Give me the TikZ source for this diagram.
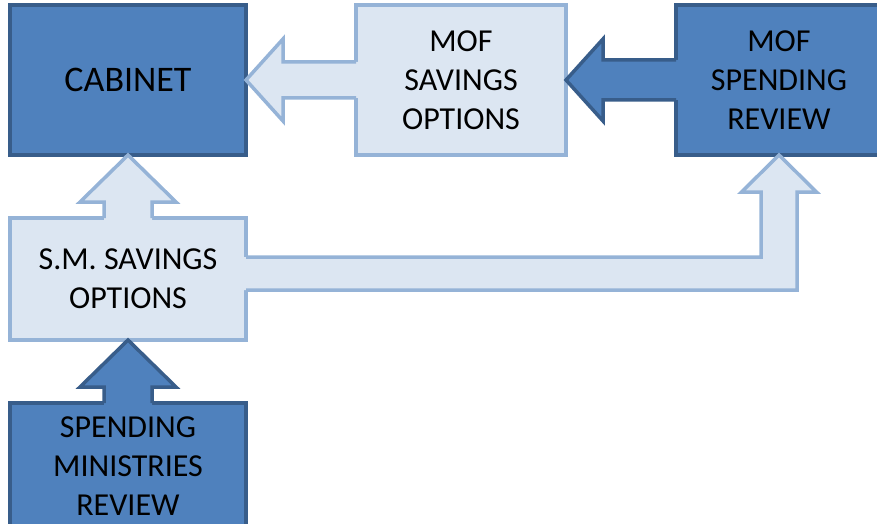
\documentclass[tikz,border=0pt]{standalone}
\usepackage{fontspec}
\setmainfont{Carlito}
\usetikzlibrary{calc}
\definecolor{darkfill}{HTML}{4F81BD}
\definecolor{darkline}{HTML}{385D8A}
\definecolor{lightfill}{HTML}{DCE6F2}
\definecolor{lightline}{HTML}{95B3D7}
\begin{document}
\begin{tikzpicture}[x=1pt,y=-1pt,
  box/.style={line width=3.5pt, outer sep=0pt, inner sep=0pt, align=center,
    font=\fontsize{32}{39}\selectfont, text=black},
  darkbox/.style={box, draw=darkline, fill=darkfill},
  lightbox/.style={box, draw=lightline, fill=lightfill},
  darkedge/.style={draw=darkline, line width=3.5pt},
  lightedge/.style={draw=lightline, line width=3.5pt}]
\useasboundingbox (0,0) rectangle (877,524);
% boxes
\node[darkbox, minimum width=236pt, minimum height=150pt,
      font=\fontsize{36}{42}\selectfont] (cab) at (128,80) {CABINET};
\node[lightbox, minimum width=210pt, minimum height=150pt] (mofs) at (461,80) {MOF\\SAVINGS\\OPTIONS};
\node[darkbox, minimum width=206pt, minimum height=150pt] (mofr) at (779,80) {MOF\\SPENDING\\REVIEW};
\node[lightbox, minimum width=236pt, minimum height=122pt] (sm) at (128,279) {S.M. SAVINGS\\OPTIONS};
\node[darkbox, minimum width=236pt, minimum height=126pt] (smr) at (128,466) {SPENDING\\MINISTRIES\\REVIEW};
% arrow: MOF savings -> cabinet
\fill[lightfill] (cab.east) -- ($(cab.east)+(37,-41)$) -- ($(cab.east)+(37,-18)$)
  -- ($(mofs.west)+(3,-18)$) -- ($(mofs.west)+(3,18)$) -- ($(cab.east)+(37,18)$)
  -- ($(cab.east)+(37,41)$) -- cycle;
\draw[lightedge] ($(mofs.west)+(0,-18)$) -- ($(cab.east)+(37,-18)$) -- ($(cab.east)+(37,-41)$)
  -- (cab.east) -- ($(cab.east)+(37,41)$) -- ($(cab.east)+(37,18)$) -- ($(mofs.west)+(0,18)$);
% arrow: MOF spending review -> MOF savings
\fill[darkfill] (mofs.east) -- ($(mofs.east)+(37,-41)$) -- ($(mofs.east)+(37,-20)$)
  -- ($(mofr.west)+(3,-20)$) -- ($(mofr.west)+(3,20)$) -- ($(mofs.east)+(37,20)$)
  -- ($(mofs.east)+(37,41)$) -- cycle;
\draw[darkedge] ($(mofr.west)+(0,-20)$) -- ($(mofs.east)+(37,-20)$) -- ($(mofs.east)+(37,-41)$)
  -- (mofs.east) -- ($(mofs.east)+(37,41)$) -- ($(mofs.east)+(37,20)$) -- ($(mofr.west)+(0,20)$);
% arrow: S.M. savings -> cabinet
\fill[lightfill] (cab.south) -- ($(cab.south)+(-48,47)$) -- ($(cab.south)+(-24,47)$)
  -- ($(sm.north)+(-24,3)$) -- ($(sm.north)+(24,3)$) -- ($(cab.south)+(24,47)$)
  -- ($(cab.south)+(48,47)$) -- cycle;
\draw[lightedge] ($(sm.north)+(-24,0)$) -- ($(cab.south)+(-24,47)$) -- ($(cab.south)+(-48,47)$)
  -- (cab.south) -- ($(cab.south)+(48,47)$) -- ($(cab.south)+(24,47)$) -- ($(sm.north)+(24,0)$);
% arrow: spending ministries review -> S.M. savings
\fill[darkfill] (sm.south) -- ($(sm.south)+(-48,47)$) -- ($(sm.south)+(-24,47)$)
  -- ($(smr.north)+(-24,3)$) -- ($(smr.north)+(24,3)$) -- ($(sm.south)+(24,47)$)
  -- ($(sm.south)+(48,47)$) -- cycle;
\draw[darkedge] ($(smr.north)+(-24,0)$) -- ($(sm.south)+(-24,47)$) -- ($(sm.south)+(-48,47)$)
  -- (sm.south) -- ($(sm.south)+(48,47)$) -- ($(sm.south)+(24,47)$) -- ($(smr.north)+(24,0)$);
% L-shaped arrow: S.M. savings -> MOF spending review
\fill[lightfill] ($(sm.east)+(-3,-22)$) -- ($(mofr.south)+(-18,102)$) -- ($(mofr.south)+(-18,37)$)
  -- ($(mofr.south)+(-37.5,37)$) -- (mofr.south) -- ($(mofr.south)+(37.5,37)$)
  -- ($(mofr.south)+(18,37)$) -- ($(mofr.south)+(18,135)$) -- ($(sm.east)+(-3,11)$) -- cycle;
\draw[lightedge] ($(sm.east)+(0,-22)$) -- ($(mofr.south)+(-18,102)$) -- ($(mofr.south)+(-18,37)$)
  -- ($(mofr.south)+(-37.5,37)$) -- (mofr.south) -- ($(mofr.south)+(37.5,37)$)
  -- ($(mofr.south)+(18,37)$) -- ($(mofr.south)+(18,135)$) -- ($(sm.east)+(0,11)$);
\end{tikzpicture}
\end{document}
